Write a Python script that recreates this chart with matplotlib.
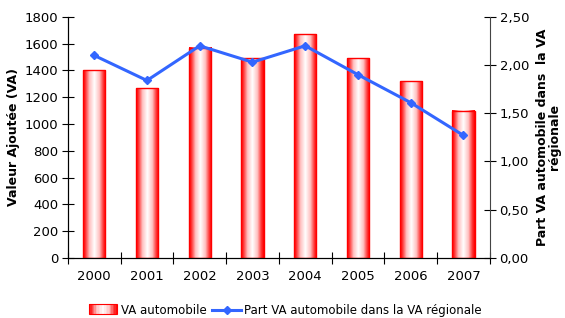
import numpy as np
import matplotlib
matplotlib.use("Agg")
import matplotlib.pyplot as plt
from matplotlib.colors import LinearSegmentedColormap
from matplotlib.legend_handler import HandlerBase
from matplotlib.patches import Rectangle
from matplotlib.lines import Line2D

plt.rcParams['font.family'] = ['DejaVu Sans']

years = ['2000', '2001', '2002', '2003', '2004', '2005', '2006', '2007']
va_auto = [1400, 1265, 1570, 1490, 1670, 1490, 1320, 1100]
part_va = [2.10, 1.84, 2.20, 2.03, 2.20, 1.90, 1.61, 1.27]

bar_cmap = LinearSegmentedColormap.from_list(
    'redwhite', [(0.0, '#ff0000'), (0.1, '#ff3030'), (0.28, '#ffc0c0'),
                 (0.5, '#ffffff'), (0.72, '#ffc0c0'), (0.9, '#ff3030'),
                 (1.0, '#ff0000')])
grad = np.linspace(0, 1, 64).reshape(1, -1)


class GradientHandler(HandlerBase):
    def create_artists(self, legend, orig, xd, yd, w, h, fontsize, trans):
        arts = []
        n = 20
        for i in range(n):
            c = bar_cmap((i + 0.5) / n)
            arts.append(Rectangle((xd + w * i / n, yd), w / n, h, facecolor=c,
                                  edgecolor='none', transform=trans))
        arts.append(Rectangle((xd, yd), w, h, facecolor='none',
                              edgecolor='#ff0000', lw=0.8, transform=trans))
        return arts


fig = plt.figure(figsize=(5.65, 3.18), dpi=100)
ax = fig.add_axes([0.120, 0.189, 0.747, 0.758])
x = np.arange(len(years))
width = 0.42
bars = ax.bar(x, va_auto, width, facecolor='none', edgecolor='#ff0000', lw=1.0, zorder=3)
for b in bars:
    x0, y0 = b.get_x(), b.get_y()
    ax.imshow(grad, cmap=bar_cmap, aspect='auto', zorder=2,
              extent=[x0, x0 + b.get_width(), y0, y0 + b.get_height()])

ax.set_xlim(-0.5, len(years) - 0.5)
ax.set_ylim(0, 1800)
ax.set_yticks(np.arange(0, 1801, 200))
ax.set_xticks(x)
ax.set_xticklabels(years)
ax.set_xticks(np.arange(-0.5, len(years), 1), minor=True)
ax.tick_params(axis='x', which='major', length=0, pad=9, labelsize=9.5)
ax.tick_params(axis='x', which='minor', length=8, direction='inout', width=0.8)
ax.tick_params(axis='y', length=8, direction='inout', width=0.8, labelsize=9.5, pad=3)
ax.spines['top'].set_visible(False)
ax.spines['right'].set_visible(False)
ax.set_ylabel('Valeur Ajoutée (VA)', fontsize=9, fontweight='bold', labelpad=3)

ax2 = ax.twinx()
line, = ax2.plot(x, part_va, color='#3366ff', lw=2.2, marker='D', ms=4.5, zorder=4)
ax2.set_ylim(0, 2.5)
ax2.set_yticks(np.arange(0, 2.51, 0.5))
ax2.set_yticklabels([f'{v:.2f}'.replace('.', ',') for v in np.arange(0, 2.51, 0.5)])
ax2.tick_params(axis='y', length=8, direction='inout', width=0.8, labelsize=9.5, pad=3)
ax2.spines['top'].set_visible(False)
ax2.spines['right'].set_color('#444444')
ax2.set_ylabel('Part VA automobile dans  la VA\nrégionale', fontsize=9,
               fontweight='bold', labelpad=5, linespacing=0.9)

handles = [Rectangle((0, 0), 1, 1), Line2D([], [], color='#3366ff', lw=2.2,
                                           marker='D', ms=4)]
fig.legend(handles, ['VA automobile', 'Part VA automobile dans la VA régionale'],
           loc='lower center', bbox_to_anchor=(0.505, -0.03), ncol=2, frameon=False,
           fontsize=8.5, handlelength=2.4, handleheight=0.8, columnspacing=0.5,
           handletextpad=0.3, handler_map={Rectangle: GradientHandler()})

fig.savefig('out.png', dpi=100)
